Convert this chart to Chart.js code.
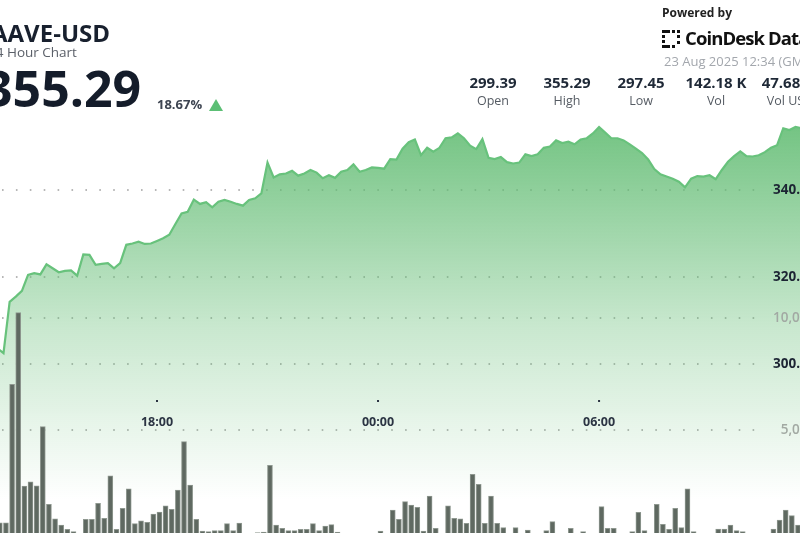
<!DOCTYPE html>
<html>
<head>
<meta charset="utf-8">
<title>AAVE-USD 24 Hour Chart</title>
<script src="https://cdn.jsdelivr.net/npm/chart.js@4.4.1/dist/chart.umd.min.js"></script>
<style>
  html, body { margin: 0; padding: 0; background: #fff; }
  body { width: 800px; height: 533px; overflow: hidden; position: relative; font-family: "Open Sans", sans-serif; }
  #chart { position: absolute; left: 0; top: 0; }
  .t { position: absolute; white-space: nowrap; line-height: 1; }
  .stat { position: absolute; width: 90px; margin-left: -45px; text-align: center; line-height: 1; white-space: nowrap; }
  .stat b { display: block; font-size: 15px; font-weight: 700; color: #1f2937; }
  .stat span { display: block; font-size: 12.5px; color: #555b63; margin-top: 5px; }
  #tri { position: absolute; left: 209px; top: 99px; width: 0; height: 0;
         border-left: 7.5px solid transparent; border-right: 7.5px solid transparent; border-bottom: 12px solid #5cbf75; }
</style>
</head>
<body>
<canvas id="chart" width="860" height="545"></canvas>

<div class="t" style="left:-9px;top:20.5px;font-size:24px;font-weight:700;color:#18202e;">AAVE-USD</div>
<div class="t" style="left:-12px;top:46px;font-size:13.5px;color:#5b6069;">24 Hour Chart</div>
<div class="t" style="left:-16px;top:63px;font-size:50px;font-weight:700;color:#141c2a;">355.29</div>
<div class="t" style="left:157px;top:98px;font-size:13px;font-weight:700;color:#3d4451;">18.67%</div>
<div id="tri"></div>

<div class="t" style="left:662px;top:6.5px;font-size:12px;font-weight:700;color:#222;">Powered by</div>
<svg class="t" style="left:662px;top:30px;" width="20" height="18" viewBox="0 0 20 18">
  <rect x="0" y="0" width="8" height="3" fill="#111"/>
  <rect x="10" y="0" width="3" height="3" fill="#111"/>
  <rect x="15" y="0" width="3" height="3" fill="#111"/>
  <rect x="0" y="5" width="3" height="3" fill="#111"/>
  <rect x="0" y="10" width="3" height="3" fill="#111"/>
  <rect x="0" y="15" width="8" height="3" fill="#111"/>
  <rect x="10" y="15" width="3" height="3" fill="#111"/>
  <rect x="15" y="5" width="3" height="3" fill="#111"/>
  <rect x="15" y="11" width="3" height="3" fill="#111"/>
</svg>
<div class="t" style="left:685px;top:29px;font-size:18.5px;font-weight:700;color:#111;letter-spacing:-0.9px;">CoinDesk Data</div>
<div class="t" style="left:664px;top:54.5px;font-size:13px;color:#a3a7ad;">23 Aug 2025 12:34 (GMT)</div>

<div class="stat" style="left:493px;top:75px;"><b>299.39</b><span>Open</span></div>
<div class="stat" style="left:567px;top:75px;"><b>355.29</b><span>High</span></div>
<div class="stat" style="left:641px;top:75px;"><b>297.45</b><span>Low</span></div>
<div class="stat" style="left:716px;top:75px;"><b>142.18 K</b><span>Vol</span></div>
<div class="stat" style="left:790px;top:75px;"><b>47.68 M</b><span>Vol USD</span></div>

<script>
// time in minutes since 22 Aug 00:00 (GMT), one point every 10 minutes
const firstTime = 820; // 13:40
const stepMinutes = 10;

// AAVE price
const price = [
  303.6,
  302.5, 314.3, 315.5, 316.8, 320.5, 320.9, 320.6, 322.9, 322.0, 321.1,
  321.4, 321.5, 320.3, 325.2, 325.1, 322.8, 323.0, 323.2, 322.0, 323.2,
  327.4, 327.7, 328.1, 327.6, 327.7, 328.3, 328.9, 329.7, 332.2, 334.6,
  335.0, 337.8, 336.8, 337.2, 336.0, 337.3, 337.7, 337.3, 336.8, 336.4,
  337.7, 338.1, 339.2, 346.3, 342.9, 343.6, 343.8, 344.4, 343.3, 343.8,
  344.6, 344.0, 342.7, 343.4, 342.8, 344.2, 344.6, 345.9, 344.2, 344.6,
  345.2, 345.1, 344.9, 347.1, 347.0, 349.5, 351.0, 351.6, 348.0, 349.7,
  348.8, 349.7, 351.9, 352.1, 353.0, 351.9, 350.2, 349.4, 351.7, 347.4,
  347.1, 347.6, 346.4, 346.1, 346.3, 348.2, 347.8, 348.2, 349.7, 350.0,
  351.4, 350.8, 351.1, 350.5, 351.6, 351.9, 353.0, 354.5, 353.2, 351.9,
  351.9, 351.4, 350.5, 349.5, 348.5, 347.0, 344.8, 343.6, 343.1, 342.6,
  341.9, 340.6, 342.6, 343.2, 343.1, 343.4, 342.5, 344.6, 346.5, 347.8,
  348.9, 347.8, 347.7, 348.0, 348.7, 349.7, 350.3, 354.2, 353.8, 354.5,
  354.2
];

// volume per 10 minutes
const volume = [
  860,
  860, 7040, 10240, 2500, 2690, 2510, 5150, 1680, 1030, 760,
  565, 460, 250, 1010, 1010, 1730, 1060, 2950, 565, 1500,
  2370, 820, 940, 880, 1250, 1340, 1610, 1460, 2320, 4480,
  2545, 1010, 490, 460, 505, 505, 820, 505, 850, 250,
  250, 420, 445, 3420, 760, 610, 505, 505, 565, 565,
  820, 505, 715, 775, 445, 250, 250, 250, 300, 250,
  250, 490, 250, 1430, 1010, 1800, 1650, 1550, 490, 2050,
  610, 250, 1610, 1060, 1030, 830, 3020, 2575, 830, 2050,
  830, 640, 250, 640, 250, 535, 250, 250, 505, 910,
  250, 250, 610, 250, 460, 250, 250, 1580, 610, 610,
  250, 250, 460, 1325, 505, 250, 1680, 790, 565, 1500,
  640, 2370, 460, 250, 250, 250, 580, 580, 760, 505,
  460, 250, 250, 250, 250, 580, 980, 1430, 1180, 760,
  980
];

const timeTicks = [1080, 1440, 1800];
const timeLabels = ["18:00", "00:00", "06:00"];
const priceTicks = [300, 320, 340];
const priceLabels = ["300.00", "320.00", "340.00"];
const volTicks = [5000, 10000];
const volLabels = ["5,000", "10,000"];

const pricePoints = price.map((p, i) => ({ x: firstTime + i * stepMinutes, y: p }));
const volPoints = volume.map((v, i) => ({ x: firstTime + i * stepMinutes + 4, y: v }));

const font = '"Open Sans", sans-serif';

const overlay = {
  id: "overlay",
  beforeDatasetsDraw(chart) {
    const { ctx, scales } = chart;
    ctx.save();
    ctx.strokeStyle = "rgba(135,135,135,0.8)";
    ctx.lineWidth = 1.6;
    ctx.setLineDash([1.6, 12.3]);
    const ys = priceTicks.map((v) => scales.price.getPixelForValue(v))
      .concat(volTicks.map((v) => scales.vol.getPixelForValue(v)));
    ys.forEach((y) => {
      ctx.beginPath();
      ctx.moveTo(2, y);
      ctx.lineTo(766, y);
      ctx.stroke();
    });
    ctx.restore();
  },
  afterDatasetsDraw(chart) {
    const { ctx, scales } = chart;
    ctx.save();
    ctx.textBaseline = "middle";

    // price labels
    ctx.font = "700 13.5px " + font;
    ctx.fillStyle = "#1c2433";
    ctx.textAlign = "left";
    priceTicks.forEach((v, i) => {
      ctx.fillText(priceLabels[i], 773, scales.price.getPixelForValue(v));
    });

    // volume labels (right aligned)
    ctx.font = "600 13.5px " + font;
    ctx.fillStyle = "#a2a9a3";
    ctx.textAlign = "right";
    const right = 773 + ctx.measureText("10,000").width;
    volTicks.forEach((v, i) => {
      ctx.fillText(volLabels[i], right, scales.vol.getPixelForValue(v));
    });

    // time labels
    ctx.font = "700 12.5px " + font;
    ctx.fillStyle = "#2b3443";
    ctx.textAlign = "center";
    timeTicks.forEach((t, i) => {
      const x = scales.x.getPixelForValue(t);
      ctx.fillText(timeLabels[i], x, 422);
      ctx.fillRect(x - 1, 400, 2, 2);
    });
    ctx.restore();
  },
};

window.addEventListener("DOMContentLoaded", () => {
  const ctx = document.getElementById("chart").getContext("2d");

  new Chart(ctx, {
    type: "line",
    data: {
      datasets: [
        {
          type: "bar",
          label: "Volume",
          data: volPoints,
          yAxisID: "vol",
          backgroundColor: "#5f6961",
          borderColor: "#8f9890",
          borderWidth: 1,
          barThickness: 5,
          order: 0,
        },
        {
          type: "line",
          label: "Price",
          data: pricePoints,
          yAxisID: "price",
          borderColor: "#68c27c",
          borderWidth: 2.2,
          pointRadius: 0,
          tension: 0,
          fill: "start",
          backgroundColor: (c) => {
            const g = c.chart.ctx.createLinearGradient(0, 120, 0, 500);
            g.addColorStop(0, "rgba(98,188,115,0.9)");
            g.addColorStop(0.55, "rgba(98,188,115,0.34)");
            g.addColorStop(1, "rgba(98,188,115,0)");
            return g;
          },
          order: 1,
        },
      ],
    },
    options: {
      responsive: false,
      animation: false,
      devicePixelRatio: 1,
      layout: { padding: 0 },
      plugins: { legend: { display: false }, tooltip: { enabled: false } },
      scales: {
        x: { type: "linear", min: 824.3, max: 2225, offset: false, display: false },
        price: { type: "linear", position: "right", min: 258.39, max: 383.68, display: false },
        vol: { type: "linear", position: "right", min: -134, max: 24196, display: false },
      },
    },
    plugins: [overlay],
  });
});
</script>
</body>
</html>
